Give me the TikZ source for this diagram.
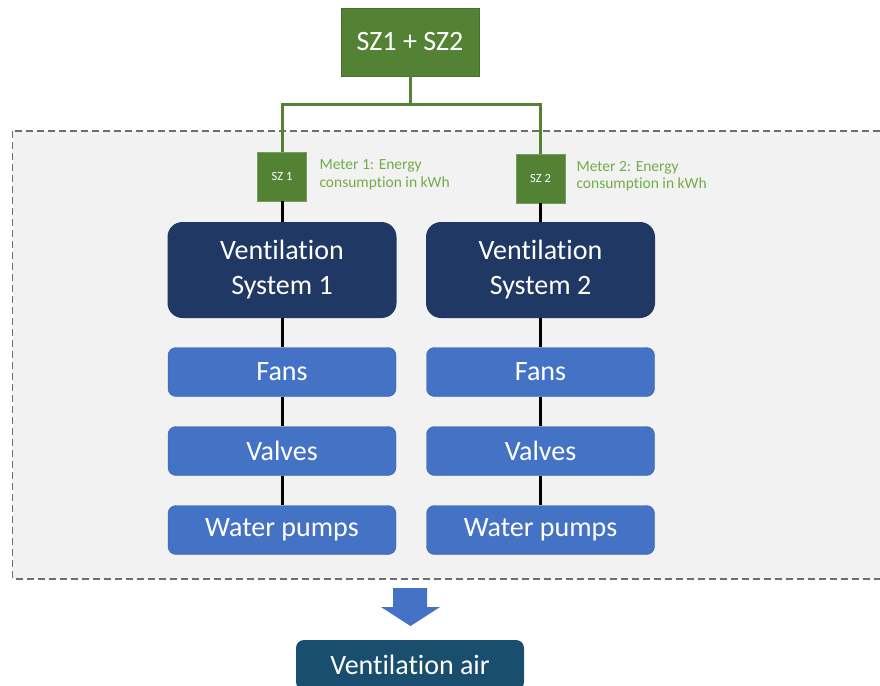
\documentclass[tikz,border=0pt]{standalone}
\usepackage{fontspec}
\setmainfont{Carlito}[Ligatures=NoCommon]
\usetikzlibrary{calc}
\usetikzlibrary{positioning}

\definecolor{sumgreen}{HTML}{548235}
\definecolor{metergreen}{HTML}{70AD47}
\definecolor{navy}{HTML}{203864}
\definecolor{partblue}{HTML}{4472C4}
\definecolor{partedge}{HTML}{3A62AA}
\definecolor{airblue}{HTML}{1A4E6E}
\definecolor{panel}{HTML}{F2F2F2}
\definecolor{dashgray}{HTML}{6E6E6E}

\tikzset{
  sumbox/.style={draw=sumgreen!85!black,fill=sumgreen,text=white,minimum width=138pt,minimum height=68pt,
    font=\fontsize{28}{33}\selectfont},
  meterbox/.style={draw=sumgreen!80!white,fill=sumgreen,text=white,minimum width=49pt,minimum height=49pt,
    inner sep=0pt,font=\fontsize{12.5}{14}\selectfont},
  metertext/.style={anchor=west,align=left,text=metergreen,font=\fontsize{15.5}{17.5}\selectfont},
  systembox/.style={fill=navy,text=white,rounded corners=15pt,minimum width=229pt,minimum height=96pt,
    align=center,font=\fontsize{28}{35}\selectfont},
  partbox/.style={draw=partedge,fill=partblue,text=white,rounded corners=8pt,minimum width=228pt,
    minimum height=49pt,font=\fontsize{28}{33}\selectfont},
  airbox/.style={fill=airblue,text=white,rounded corners=8pt,minimum width=228pt,minimum height=50pt,
    font=\fontsize{28}{33}\selectfont},
}

\begin{document}
\begin{tikzpicture}[x=1pt,y=-1pt]

  \clip (0,0) rectangle (880,685);
  \fill [white] (0,0) rectangle (880,685);

  % dashed frame round both systems
  \draw [dashgray,fill=panel,line width=1.3pt,dash pattern=on 7pt off 4pt] (12.5,131) rectangle (900,579);

  \node [sumbox] (sum) at (410,42) {SZ1 + SZ2};

  \node [meterbox] (sz_1) at (282,176.5) {SZ 1};
  \node [meterbox] (sz_2) at (540.5,178.5) {SZ 2};

  \node [metertext] (meter_1) at (316,175) {Meter 1: Energy\\consumption in kWh};
  \node [metertext] (meter_2) at (573,176) {Meter 2: Energy\\consumption in kWh};

  \node [systembox] (vs_1) at (282,270) {Ventilation\\System 1};
  \node [systembox] (vs_2) at (540.5,270) {Ventilation\\System 2};

  \node [partbox] (fans_1)   at (282,372) {Fans};
  \node [partbox] (valves_1) at (282,451) {Valves};
  \node [partbox] (pumps_1)  at (282,530) {Water pumps};

  \node [partbox] (fans_2)   at (540.5,372) {Fans};
  \node [partbox] (valves_2) at (540.5,451) {Valves};
  \node [partbox] (pumps_2)  at (540.5,530) {Water pumps};

  \node [airbox] (air) at (410,665) {Ventilation air};

  % green feed from the main meter
  \coordinate (split) at ($(sum.south)+(0,28)$);
  \draw [sumgreen,line width=3pt] (sum.south) -- (split);
  \draw [sumgreen,line width=3pt] (split) -| (sz_1.north);
  \draw [sumgreen,line width=3pt] (split) -| (sz_2.north);

  \path [draw,line width=3pt,black]
    (sz_1.south) edge (vs_1.north)
    (vs_1.south) edge (fans_1.north)
    (fans_1.south) edge (valves_1.north)
    (valves_1.south) edge (pumps_1.north)
    (sz_2.south) edge (vs_2.north)
    (vs_2.south) edge (fans_2.north)
    (fans_2.south) edge (valves_2.north)
    (valves_2.south) edge (pumps_2.north);

  % block arrow down to the air
  \fill [partblue] (393,588) -- (427,588) -- (427,607) -- (440,607) -- (410.5,626)
    -- (381,607) -- (393,607) -- cycle;

\end{tikzpicture}
\end{document}
